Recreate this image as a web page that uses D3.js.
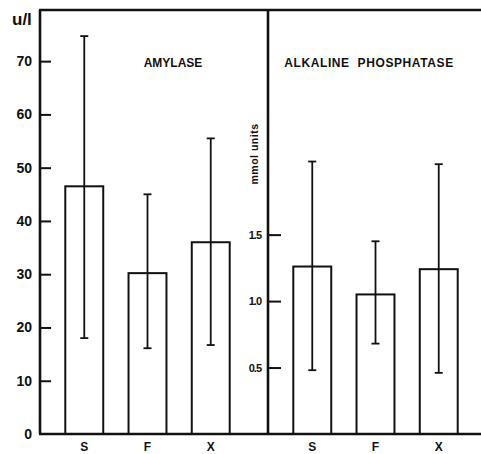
<!DOCTYPE html>
<html>
<head>
<meta charset="utf-8">
<script src="https://cdn.jsdelivr.net/npm/d3@7"></script>
<style>
  body { margin: 0; background: #fff; }
  text { font-family: "Liberation Sans", Arial, sans-serif; font-weight: bold; fill: #111; }
</style>
</head>
<body>
<div id="chart"></div>
<script>
// groups on the x axis (same for both panels)
const groups = ["S", "F", "X"];

// amylase, u/l
const amylaseMean = [46.5, 30.2, 36.0];
const amylaseLow = [18.0, 16.1, 16.7];
const amylaseHigh = [74.7, 45.0, 55.5];
const amylaseTicks = [0, 10, 20, 30, 40, 50, 60, 70];

// alkaline phosphatase, mmol units
const alpMean = [1.26, 1.05, 1.24];
const alpLow = [0.48, 0.68, 0.46];
const alpHigh = [2.05, 1.45, 2.03];
const alpTicks = [0.5, 1.0, 1.5];

const width = 481, height = 454;
const baseY = 434, topY = 10;
const leftX = 40, midX = 268, rightX = 481;

const svg = d3.select("#chart").append("svg")
    .attr("width", width)
    .attr("height", height);

// scales for the two panels
const xLeft = d3.scaleBand().domain(groups).range([leftX, 255]).padding(0.4);
const xRight = d3.scaleBand().domain(groups).range([midX, 483]).padding(0.4);
const yLeft = d3.scaleLinear().domain([0, 79.6]).range([baseY, topY]);
const yRight = d3.scaleLinear().domain([0, 3.19]).range([baseY, topY]);

/**
 * drawPanel
 * draws the bars with error bars of one panel
 */
function drawPanel(xScale, yScale, mean, low, high){
    const rows = groups.map((g, i) => ({ g: g, mean: mean[i], low: low[i], high: high[i] }));
    const panel = svg.append("g");

    panel.selectAll("rect")
        .data(rows)
        .enter()
        .append("rect")
            .attr("x", d => xScale(d.g))
            .attr("y", d => yScale(d.mean))
            .attr("width", xScale.bandwidth())
            .attr("height", d => baseY - yScale(d.mean))
            .attr("fill", "none")
            .attr("stroke", "#111")
            .attr("stroke-width", 2);

    const cx = d => xScale(d.g) + xScale.bandwidth() / 2;

    panel.selectAll("line.err")
        .data(rows)
        .enter()
        .append("line")
            .attr("class", "err")
            .attr("x1", cx).attr("x2", cx)
            .attr("y1", d => yScale(d.low))
            .attr("y2", d => yScale(d.high))
            .attr("stroke", "#111")
            .attr("stroke-width", 1.8);

    ["low", "high"].forEach(k => {
        panel.selectAll("line.cap-" + k)
            .data(rows)
            .enter()
            .append("line")
                .attr("x1", d => cx(d) - 4).attr("x2", d => cx(d) + 4)
                .attr("y1", d => yScale(d[k]))
                .attr("y2", d => yScale(d[k]))
                .attr("stroke", "#111")
                .attr("stroke-width", 1.8);
    });

    panel.selectAll("text.cat")
        .data(rows)
        .enter()
        .append("text")
            .attr("x", cx)
            .attr("y", 451)
            .attr("text-anchor", "middle")
            .attr("font-size", "12px")
            .text(d => d.g);
}

drawPanel(xLeft, yLeft, amylaseMean, amylaseLow, amylaseHigh);
drawPanel(xRight, yRight, alpMean, alpLow, alpHigh);

// frame: left axis, divider, top border, bottom axis
const frame = svg.append("g").attr("stroke", "#111").attr("stroke-width", 2.6);
frame.append("line").attr("x1", leftX).attr("x2", leftX).attr("y1", topY).attr("y2", baseY);
frame.append("line").attr("x1", midX).attr("x2", midX).attr("y1", topY).attr("y2", baseY);
frame.append("line").attr("x1", leftX - 1).attr("x2", rightX).attr("y1", topY).attr("y2", topY);
frame.append("line").attr("x1", leftX - 1).attr("x2", rightX).attr("y1", baseY).attr("y2", baseY);

// left ticks point inward
const leftAxis = svg.append("g")
    .attr("transform", "translate(" + leftX + ",0)")
    .call(d3.axisRight(yLeft).tickValues(amylaseTicks.filter(t => t > 0)).tickSize(11).tickFormat(""));
leftAxis.select(".domain").remove();
leftAxis.selectAll("line").attr("stroke", "#111").attr("stroke-width", 2);

svg.selectAll("text.ltick")
    .data(amylaseTicks)
    .enter()
    .append("text")
        .attr("x", 32)
        .attr("y", d => yLeft(d) + 5)
        .attr("text-anchor", "end")
        .attr("font-size", "14px")
        .text(d => d);

const rightAxis = svg.append("g")
    .attr("transform", "translate(" + midX + ",0)")
    .call(d3.axisRight(yRight).tickValues(alpTicks).tickSize(13).tickFormat(""));
rightAxis.select(".domain").remove();
rightAxis.selectAll("line").attr("stroke", "#111").attr("stroke-width", 2);

svg.selectAll("text.rtick")
    .data(alpTicks)
    .enter()
    .append("text")
        .attr("x", 261)
        .attr("y", d => yRight(d) + 4)
        .attr("text-anchor", "end")
        .attr("font-size", "11px")
        .attr("letter-spacing", "-1px")
        .text(d => d.toFixed(1));

// titles and units
svg.append("text")
    .attr("x", 173).attr("y", 67)
    .attr("text-anchor", "middle")
    .attr("font-size", "12px")
    .text("AMYLASE");

svg.append("text")
    .attr("x", 369).attr("y", 67)
    .attr("text-anchor", "middle")
    .attr("font-size", "12px")
    .attr("letter-spacing", "0.6px")
    .attr("xml:space", "preserve")
    .text("ALKALINE  PHOSPHATASE");

svg.append("text")
    .attr("x", 12).attr("y", 25)
    .attr("font-size", "17px")
    .text("u/l");

svg.append("text")
    .attr("transform", "translate(258,154) rotate(-90)")
    .attr("text-anchor", "middle")
    .attr("font-size", "10.5px")
    .attr("letter-spacing", "0.5px")
    .text("mmol units");
</script>
</body>
</html>
